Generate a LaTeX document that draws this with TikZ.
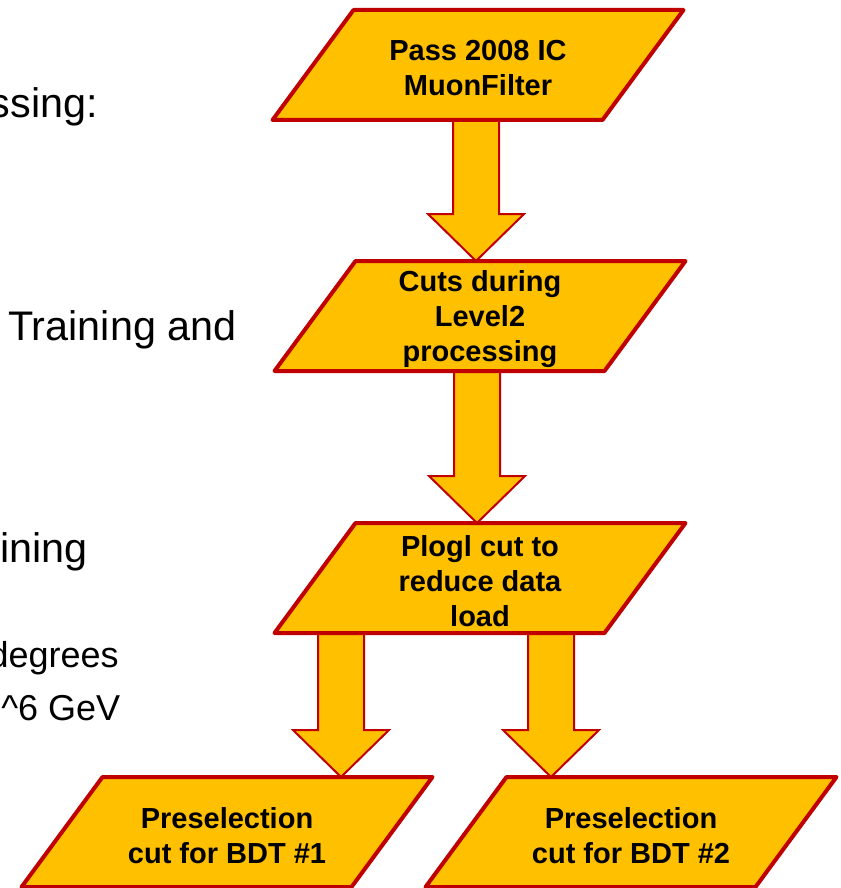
\documentclass[tikz,border=0pt]{standalone}
\usepackage{fontspec}
\setmainfont{Liberation Sans}
\usetikzlibrary{calc,backgrounds}

\definecolor{boxfill}{HTML}{FFC000}
\definecolor{boxedge}{HTML}{C00000}

\tikzset{
  stepbox/.style={inner sep=0pt, outer sep=0pt, minimum width=247.5pt,
    minimum height=82.5pt, align=center,
    font=\fontsize{21.75}{26.25}\selectfont\bfseries},
  boxline/.style={draw=boxedge, fill=boxfill, line width=3pt, line join=round},
  flowarrow/.style={draw=boxedge, fill=boxfill, line width=1.5pt, line join=miter},
  bigtext/.style={font=\fontsize{31}{37}\selectfont, inner sep=0pt},
  smalltext/.style={font=\fontsize{27}{32}\selectfont, inner sep=0pt},
}

% the text sits a little below the middle of each parallelogram
\def\tdrop{3.5}

% parallelogram around a step node (top edge shifted right)
\newcommand\pgram[1]{%
  \draw[boxline] ($(#1.south west)+(-40.5,-\tdrop)$) -- ($(#1.south east)+(-40.5,-\tdrop)$)
    -- ($(#1.north east)+(40.5,-\tdrop)$) -- ($(#1.north west)+(40.5,-\tdrop)$) -- cycle;}

% thick block arrow from a tail point down to a tip point
\newcommand\blockarrow[2]{%
  \draw[flowarrow] ($(#1)+(-23,0)$) -- ($(#2)+(-23,-47)$) -- ($(#2)+(-48,-47)$)
    -- (#2) -- ($(#2)+(48,-47)$) -- ($(#2)+(23,-47)$) -- ($(#1)+(23,0)$) -- cycle;}

\begin{document}
\begin{tikzpicture}[x=0.75pt,y=-0.75pt]
\useasboundingbox (0,0) rectangle (841,888);

% side text
\node[bigtext, anchor=base east] (t1) at (98,118) {ssing:};
\node[bigtext, anchor=base west] (t2) at (8,340) {Training and};
\node[bigtext, anchor=base east] (t3) at (88,562) {ining};
\node[smalltext, anchor=base east] (t4) at (119,667) {degrees};
\node[smalltext, anchor=base west] (t5) at (1,720) {\textasciicircum 6 GeV};

% flow steps
\node[stepbox] (b1) at (478,68.5)  {Pass 2008 IC\\MuonFilter};
\node[stepbox] (b2) at (480,319.5) {Cuts during\\Level2\\processing};
\node[stepbox] (b3) at (480,581.5) {Plogl cut to\\reduce data\\load};
\node[stepbox] (b4) at (227,835.5) {Preselection\\cut for BDT \#1};
\node[stepbox] (b5) at (631,835.5) {Preselection\\cut for BDT \#2};

% arrow tails and tips, on the drawn edges of the parallelograms
\coordinate (a1) at ($(b1.south)+(-2,-\tdrop)$);
\coordinate (h1) at ($(a1 |- b2.north)+(0,-\tdrop)$);
\coordinate (a2) at ($(b2.south)+(-3,-\tdrop)$);
\coordinate (h2) at ($(a2 |- b3.north)+(0,-\tdrop)$);
\coordinate (a3) at ($(b3.south)+(-139,-\tdrop)$);
\coordinate (h3) at ($(a3 |- b4.north)+(0,-\tdrop)$);
\coordinate (a4) at ($(b3.south)+(71,-\tdrop)$);
\coordinate (h4) at ($(a4 |- b5.north)+(0,-\tdrop)$);

\begin{pgfonlayer}{background}
  \blockarrow{a1}{h1}
  \blockarrow{a2}{h2}
  \blockarrow{a3}{h3}
  \blockarrow{a4}{h4}
  \pgram{b1}
  \pgram{b2}
  \pgram{b3}
  \pgram{b4}
  \pgram{b5}
\end{pgfonlayer}
\end{tikzpicture}
\end{document}
